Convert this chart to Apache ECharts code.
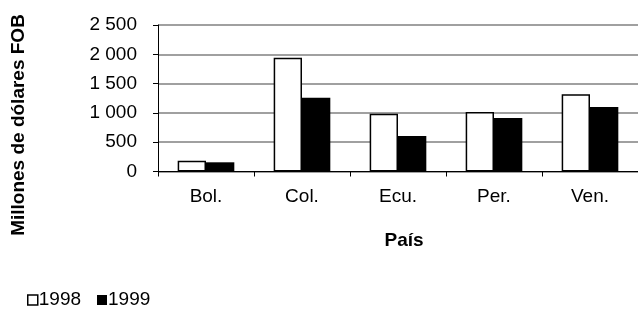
<!DOCTYPE html>
<html>
<head>
<meta charset="utf-8">
<script src="https://cdn.jsdelivr.net/npm/echarts@6/dist/echarts.min.js"></script>
<style>
  html, body { margin: 0; padding: 0; background: #fff; }
  #chart { width: 638px; height: 311px; }
</style>
</head>
<body>
<div id="chart"></div>
<script>
var paises = ['Bol.', 'Col.', 'Ecu.', 'Per.', 'Ven.'];
var valores1998 = [184, 1942, 986, 1015, 1317];
var valores1999 = [157, 1260, 606, 913, 1100];

var chart = echarts.init(document.getElementById('chart'));
var fuente = 'Liberation Sans, Arial, sans-serif';

var option = {
  animation: false,
  grid: { left: 158, top: 25, right: -6, bottom: 139.5 },
  legend: {
    left: 27, top: 289, padding: 0,
    itemWidth: 10, itemHeight: 10, itemGap: 16,
    textStyle: { fontFamily: fuente, fontSize: 19, lineHeight: 22, color: '#000', padding: [0, 0, 0, -4] },
    data: [
      { name: '1998', icon: 'rect', itemStyle: { color: '#fff', borderColor: '#000', borderWidth: 1.5 } },
      { name: '1999', icon: 'rect', itemStyle: { color: '#000' } }
    ]
  },
  xAxis: {
    type: 'category',
    data: paises,
    axisLine: { lineStyle: { color: '#000', width: 1 } },
    axisTick: { show: true, length: 5, lineStyle: { color: '#000' } },
    axisLabel: { fontFamily: fuente, fontSize: 19, color: '#000', margin: 16 }
  },
  yAxis: {
    type: 'value',
    min: 0, max: 2500, interval: 500,
    axisLine: { show: true, lineStyle: { color: '#000', width: 1 } },
    axisTick: { show: true, length: 5, lineStyle: { color: '#000' } },
    splitLine: { lineStyle: { color: '#808080', width: 1.5 } },
    axisLabel: {
      fontFamily: fuente, fontSize: 19, color: '#000', margin: 21,
      formatter: function (v) { return String(v).replace(/\B(?=(\d{3})+(?!\d))/g, ' '); }
    }
  },
  graphic: [
    {
      type: 'text', x: 19, y: 125, rotation: Math.PI / 2,
      style: {
        text: 'Millones de dólares FOB', fontFamily: fuente, fontSize: 19,
        fontWeight: 'bold', fill: '#000', align: 'center', verticalAlign: 'middle'
      }
    },
    {
      type: 'text', x: 404, y: 241,
      style: {
        text: 'País', fontFamily: fuente, fontSize: 19,
        fontWeight: 'bold', fill: '#000', align: 'center', verticalAlign: 'middle'
      }
    }
  ],
  series: [
    {
      name: '1998', type: 'bar', data: valores1998,
      barGap: '0%', barCategoryGap: '41%',
      itemStyle: { color: '#fff', borderColor: '#000', borderWidth: 1.5 }
    },
    {
      name: '1999', type: 'bar', data: valores1999,
      itemStyle: { color: '#000' }
    }
  ]
};
chart.setOption(option);
</script>
</body>
</html>
